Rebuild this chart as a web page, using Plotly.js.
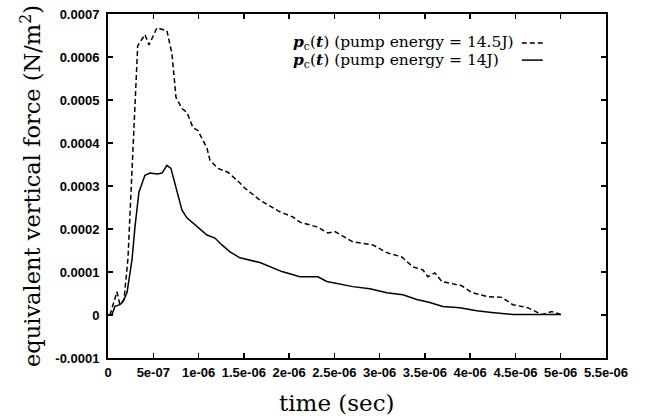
<!DOCTYPE html>
<html>
<head>
<meta charset="utf-8">
<script src="https://cdn.plot.ly/plotly-3.0.1.min.js"></script>
<style>html,body{margin:0;padding:0;background:#fff;}#chart{width:650px;height:418px;}</style>
</head>
<body>
<div id="chart"></div>
<script>
// time in microseconds (converted to seconds below), force in units of 1e-4 N/m^2
const dashedTimeUs = [0.022,0.055,0.099,0.132,0.177,0.221,0.276,0.328,0.408,0.453,0.541,0.651,0.706,0.751,0.817,0.872,0.938,0.993,1.093,1.126,1.214,1.325,1.457,1.512,1.678,1.898,2.042,2.119,2.307,2.428,2.506,2.704,2.925,3.079,3.245,3.366,3.477,3.532,3.609,3.687,3.907,4.018,4.183,4.349,4.47,4.636,4.79,4.9,5.0];
const dashedForce = [0,0.22,0.54,0.24,0.36,1.33,3.9,6.26,6.52,6.28,6.68,6.61,6.08,5.06,4.8,4.71,4.36,4.29,3.88,3.6,3.41,3.32,3.07,2.95,2.67,2.4,2.28,2.16,2.05,1.91,1.94,1.7,1.63,1.45,1.35,1.12,1.05,0.89,0.98,0.78,0.68,0.52,0.43,0.41,0.24,0.17,0.01,0.08,0.01];
const solidTimeUs = [0.022,0.044,0.077,0.132,0.166,0.21,0.265,0.298,0.342,0.408,0.464,0.541,0.596,0.651,0.695,0.762,0.817,0.872,0.982,1.093,1.181,1.258,1.347,1.457,1.678,1.921,2.119,2.318,2.417,2.704,2.892,3.079,3.256,3.411,3.554,3.698,3.885,4.073,4.238,4.47,4.79,5.0];
const solidForce = [0,0.01,0.2,0.24,0.31,0.52,1.28,2.05,2.86,3.25,3.3,3.28,3.3,3.48,3.41,2.91,2.44,2.26,2.05,1.86,1.79,1.63,1.47,1.33,1.22,1.01,0.89,0.89,0.78,0.66,0.61,0.52,0.47,0.36,0.29,0.2,0.17,0.1,0.06,0.01,0.01,0.01];
const seriesNames = ["<b><i>p</i></b><sub>c</sub>(<b><i>t</i></b>) (pump energy = 14.5J)", "<b><i>p</i></b><sub>c</sub>(<b><i>t</i></b>) (pump energy = 14J)"];
const xTitle = 'time (sec)';
const yTitle = 'equivalent vertical force (N/m<sup>2</sup>)';
const xTickVals = [0,5e-7,1e-6,1.5e-6,2e-6,2.5e-6,3e-6,3.5e-6,4e-6,4.5e-6,5e-6,5.5e-6];
const xTickText = ["0","5e-07","1e-06","1.5e-06","2e-06","2.5e-06","3e-06","3.5e-06","4e-06","4.5e-06","5e-06","5.5e-06"];
const yTickVals = [-0.0001,0,0.0001,0.0002,0.0003,0.0004,0.0005,0.0006,0.0007];
const yTickText = ["-0.0001","0","0.0001","0.0002","0.0003","0.0004","0.0005","0.0006","0.0007"];

const toSec = a => a.map(v => v * 1e-6);
const toForce = a => a.map(v => v * 1e-4);

const traces = [
  {x: toSec(dashedTimeUs), y: toForce(dashedForce), type: 'scatter', mode: 'lines', name: seriesNames[0],
   line: {color: '#000', width: 1.5, dash: '5px,3px'}},
  {x: toSec(solidTimeUs), y: toForce(solidForce), type: 'scatter', mode: 'lines', name: seriesNames[1],
   line: {color: '#000', width: 1.5}}
];

const tickFont = {family: 'Liberation Sans, Arial, sans-serif', size: 13, color: '#000', weight: 'bold'};
const serif = 'DejaVu Serif, serif';

const layout = {
  width: 650, height: 418,
  margin: {l: 108, r: 44, t: 14, b: 60},
  paper_bgcolor: '#fff', plot_bgcolor: '#fff',
  showlegend: false,
  xaxis: {
    range: [0, 5.5e-6], tickvals: xTickVals, ticktext: xTickText,
    ticks: 'inside', ticklen: 5, tickwidth: 1.5, tickcolor: '#000',
    showline: true, linecolor: '#000', linewidth: 2, mirror: 'ticks',
    showgrid: false, zeroline: false, tickfont: tickFont, ticklabelstandoff: 1
  },
  yaxis: {
    range: [-0.0001, 0.0007], tickvals: yTickVals, ticktext: yTickText,
    ticks: 'inside', ticklen: 5, tickwidth: 1.5, tickcolor: '#000',
    showline: true, linecolor: '#000', linewidth: 2, mirror: 'ticks',
    showgrid: false, zeroline: false, tickfont: tickFont, ticklabelstandoff: 4,
    title: {text: yTitle, font: {family: serif, size: 22.5, color: '#000'}, standoff: 8}
  },
  annotations: [
    {xref: 'paper', yref: 'paper', x: 0.46, y: -0.131, xanchor: 'center', yanchor: 'middle', showarrow: false,
     text: xTitle, font: {family: serif, size: 23, color: '#000'}},
    {xref: 'paper', yref: 'paper', x: 0.368, y: 0.916, xanchor: 'left', yanchor: 'middle', showarrow: false,
     text: seriesNames[0], font: {family: serif, size: 15.5, color: '#000'}},
    {xref: 'paper', yref: 'paper', x: 0.368, y: 0.866, xanchor: 'left', yanchor: 'middle', showarrow: false,
     text: seriesNames[1], font: {family: serif, size: 15.5, color: '#000'}}
  ],
  shapes: [
    {type: 'line', xref: 'paper', yref: 'paper', x0: 0.831, x1: 0.873, y0: 0.916, y1: 0.916,
     line: {color: '#000', width: 1.5, dash: '5px,3px'}},
    {type: 'line', xref: 'paper', yref: 'paper', x0: 0.831, x1: 0.873, y0: 0.866, y1: 0.866,
     line: {color: '#000', width: 1.5}}
  ]
};

Plotly.newPlot('chart', traces, layout, {displayModeBar: false, staticPlot: true});
</script>
</body>
</html>
